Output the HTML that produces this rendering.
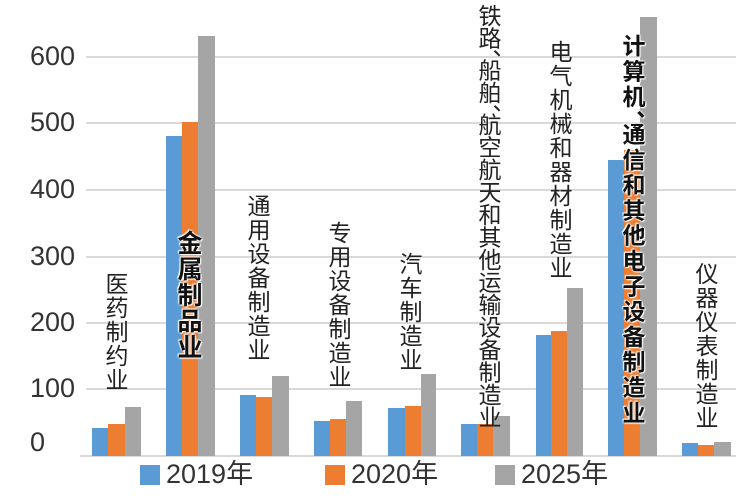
<!DOCTYPE html>
<html><head><meta charset="utf-8"><style>
body{margin:0;background:#fff;width:752px;height:502px;overflow:hidden;position:relative;font-family:"Liberation Sans","Noto Sans CJK SC",sans-serif;}
.g{position:absolute;left:86px;width:650px;height:2px;background:#d9d9d9}
.t{position:absolute;left:30px;width:56px;font-size:27px;color:#333;line-height:30px}
.b{position:absolute}
.B{background:#5b9bd5}.O{background:#ed7d31}.G{background:#a5a5a5}
.l{position:absolute;writing-mode:vertical-rl;font-size:23px;line-height:24px;color:#222;letter-spacing:1px}
.h{font-weight:bold;color:#111;text-shadow:0 0 2px #fff,0 0 2px #fff,1px 1px 1px #fff,-1px -1px 1px #fff}
.p{margin-inline-end:-13px}
.lg{position:absolute;top:459px;font-size:27px;color:#333;line-height:30px}
.sq{display:inline-block;width:20px;height:20px;margin-right:6px;vertical-align:-2px}
</style></head><body>
<div class="g" style="top:56px"></div><div class="g" style="top:122px"></div><div class="g" style="top:189px"></div><div class="g" style="top:256px"></div><div class="g" style="top:322px"></div><div class="g" style="top:388px"></div>
<div style="position:absolute;left:80px;top:455px;width:656px;height:2px;background:#d9d9d9"></div>
<div class="t" style="top:41px">600</div><div class="t" style="top:107px">500</div><div class="t" style="top:174px">400</div><div class="t" style="top:241px">300</div><div class="t" style="top:307px">200</div><div class="t" style="top:373px">100</div><div class="t" style="top:427px">0</div>

<div class="b B" style="left:92px;top:428px;width:16px;height:28px"></div><div class="b O" style="left:108px;top:424px;width:17px;height:32px"></div><div class="b G" style="left:125px;top:407px;width:16px;height:49px"></div>
<div class="b B" style="left:166px;top:136px;width:16px;height:320px"></div><div class="b O" style="left:182px;top:122px;width:16px;height:334px"></div><div class="b G" style="left:198px;top:36px;width:17px;height:420px"></div>
<div class="b B" style="left:240px;top:395px;width:16px;height:61px"></div><div class="b O" style="left:256px;top:397px;width:16px;height:59px"></div><div class="b G" style="left:272px;top:376px;width:17px;height:80px"></div>
<div class="b B" style="left:314px;top:421px;width:16px;height:35px"></div><div class="b O" style="left:330px;top:419px;width:16px;height:37px"></div><div class="b G" style="left:346px;top:401px;width:16px;height:55px"></div>
<div class="b B" style="left:388px;top:408px;width:17px;height:48px"></div><div class="b O" style="left:405px;top:406px;width:16px;height:50px"></div><div class="b G" style="left:421px;top:374px;width:15px;height:82px"></div>
<div class="b B" style="left:461px;top:424px;width:16px;height:32px"></div><div class="b O" style="left:477px;top:424px;width:16px;height:32px"></div><div class="b G" style="left:493px;top:416px;width:17px;height:40px"></div>
<div class="b B" style="left:536px;top:335px;width:15px;height:121px"></div><div class="b O" style="left:551px;top:331px;width:16px;height:125px"></div><div class="b G" style="left:567px;top:288px;width:16px;height:168px"></div>
<div class="b B" style="left:608px;top:160px;width:16px;height:296px"></div><div class="b O" style="left:624px;top:150px;width:16px;height:306px"></div><div class="b G" style="left:640px;top:17px;width:17px;height:439px"></div>
<div class="b B" style="left:682px;top:443px;width:16px;height:13px"></div><div class="b O" style="left:698px;top:445px;width:16px;height:11px"></div><div class="b G" style="left:714px;top:442px;width:17px;height:14px"></div>

<div class="l" style="left:103px;top:272px">医药制约业</div>
<div class="l h" style="left:175px;top:230px;font-size:25px;line-height:26px">金属制品业</div>
<div class="l" style="left:245px;top:194px">通用设备制造业</div>
<div class="l" style="left:326px;top:221px">专用设备制造业</div>
<div class="l" style="left:397px;top:252px">汽车制造业</div>
<div class="l" style="left:476px;top:4px;letter-spacing:-0.5px">铁路<span class="p">、</span>船舶<span class="p">、</span>航空航天和其他运输设备制造业</div>
<div class="l" style="left:547px;top:40px">电气机械和器材制造业</div>
<div class="l h" style="left:620px;top:34px;letter-spacing:2.3px">计算机<span class="p">、</span>通信和其他电子设备制造业</div>
<div class="l" style="left:693px;top:262px">仪器仪表制造业</div>

<div class="lg" style="left:140px"><span class="sq B"></span>2019年</div>
<div class="lg" style="left:325px"><span class="sq O"></span>2020年</div>
<div class="lg" style="left:495px"><span class="sq G"></span>2025年</div>
</body></html>
